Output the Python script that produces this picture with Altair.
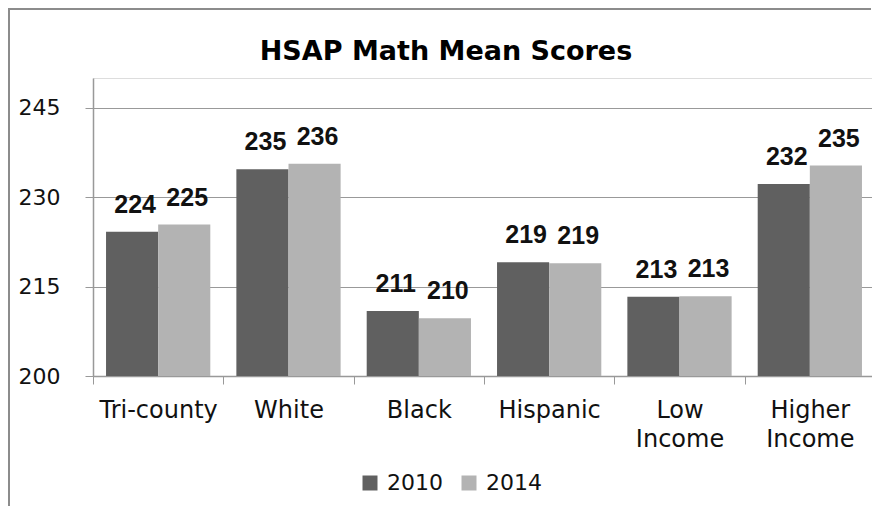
import altair as alt
import pandas as pd

categories = ["Tri-county", "White", "Black", "Hispanic", "Low Income", "Higher Income"]
years = ["2010", "2014"]
scores_2010 = [224.2, 234.7, 210.9, 219.1, 213.3, 232.2]
scores_2014 = [225.4, 235.6, 209.7, 218.9, 213.4, 235.3]
y_ticks = [200, 215, 230, 245]
colors = ["#606060", "#b3b3b3"]

rows = []
for c, a, b in zip(categories, scores_2010, scores_2014):
    rows.append({"group": c, "year": "2010", "score": a})
    rows.append({"group": c, "year": "2014", "score": b})
df = pd.DataFrame(rows)

FONT = "DejaVu Sans"
GRAY = "#999999"

x_enc = alt.X(
    "group:N",
    sort=categories,
    scale=alt.Scale(paddingInner=0, paddingOuter=0),
    axis=alt.Axis(
        title=None,
        labelAngle=0,
        labelFont=FONT,
        labelFontSize=24,
        labelColor="#111111",
        labelExpr="split(datum.label, ' ')",
        labelLineHeight=29,
        labelPadding=14,
        tickBand="extent",
        tickSize=8,
        tickColor=GRAY,
        domainColor=GRAY,
        domainWidth=1.5,
        grid=False,
    ),
)
xoff_enc = alt.XOffset(
    "year:N", sort=years, scale=alt.Scale(paddingInner=0, paddingOuter=0.25)
)
y_enc = alt.Y(
    "score:Q",
    scale=alt.Scale(domain=[200, 250], nice=False, zero=False),
    axis=alt.Axis(
        title=None,
        values=y_ticks,
        labelFont=FONT,
        labelFontSize=22,
        labelColor="#111111",
        labelPadding=25,
        tickSize=8,
        tickColor=GRAY,
        domainColor=GRAY,
        domainWidth=1.5,
        grid=True,
        gridColor=GRAY,
        gridWidth=1.2,
    ),
)

bars = alt.Chart(df).mark_bar().encode(
    x=x_enc,
    xOffset=xoff_enc,
    y=y_enc,
    y2=alt.datum(200),
    color=alt.Color(
        "year:N",
        sort=years,
        scale=alt.Scale(domain=years, range=colors),
        legend=alt.Legend(
            title=None,
            orient="none",
            direction="horizontal",
            legendX=266,
            legendY=394,
            symbolType="square",
            symbolSize=225,
            symbolStrokeWidth=0,
            labelFont=FONT,
            labelFontSize=22,
            labelColor="#111111",
            labelOffset=6,
            columnPadding=15,
        ),
    ),
)

labels = alt.Chart(df).mark_text(
    font="Liberation Sans",
    fontSize=25,
    fontWeight="bold",
    baseline="alphabetic",
    dy=-19,
    dx=3,
    color="#111111",
).encode(
    x=x_enc,
    xOffset=xoff_enc,
    y=y_enc,
    text=alt.Text("score:Q", format=".0f"),
)

frame_df = pd.DataFrame({"k": [0]})
top_border = alt.Chart(frame_df).mark_rule(color="#8c8c8c", strokeWidth=2).encode(
    x=alt.value(-85), x2=alt.value(778), y=alt.value(-69)
)
left_border = alt.Chart(frame_df).mark_rule(color="#8c8c8c", strokeWidth=2).encode(
    x=alt.value(-84), y=alt.value(-70), y2=alt.value(440)
)

chart = (
    alt.layer(bars, labels, top_border, left_border)
    .properties(
        width=782,
        height=298,
        autosize=alt.AutoSizeParams(type="none"),
        padding={"left": 85, "top": 70, "right": -3, "bottom": 130},
        title=alt.Title(
            "HSAP Math Mean Scores",
            font=FONT,
            fontSize=27,
            fontWeight="bold",
            color="#000000",
            anchor="middle",
            frame="group",
            dx=-38,
            offset=-80,
            baseline="alphabetic",
        ),
    )
    .configure_view(strokeWidth=0, stroke="transparent")
    .configure(background="white")
)

chart.save("out.html", embed_options={"renderer": "svg", "actions": False})
